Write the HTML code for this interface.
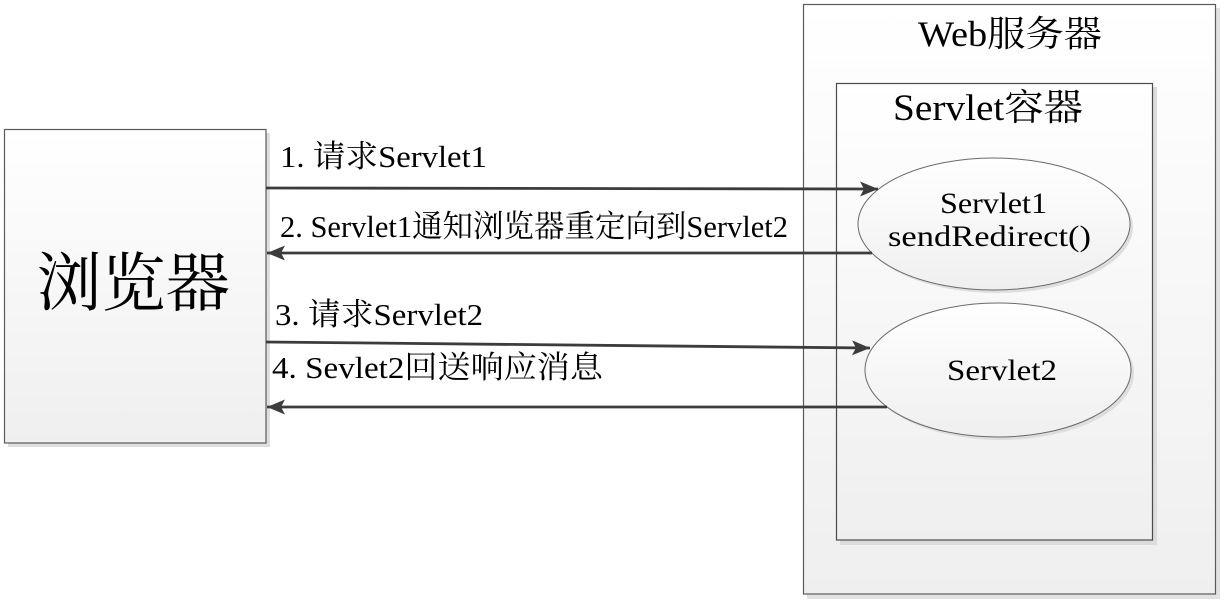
<!DOCTYPE html>
<html><head><meta charset="utf-8"><style>
html,body{margin:0;padding:0;background:#fff}svg{display:block}
svg, svg text{font-family:"Liberation Serif","Times New Roman","DejaVu Serif","Noto Serif CJK SC","Noto Serif CJK JP",serif !important;}
</style></head>
<body style="font-family:'Liberation Serif','Times New Roman',serif">
<svg width="1226" height="605" viewBox="0 0 1226 605" xmlns="http://www.w3.org/2000/svg" style="font-family:'Liberation Serif','Times New Roman','Noto Serif CJK SC',serif">
<defs>
<linearGradient id="g" x1="0" y1="0" x2="0" y2="1">
<stop offset="0" stop-color="#ffffff"/><stop offset="1" stop-color="#efefef"/>
</linearGradient>
<marker id="ah" markerWidth="18" markerHeight="15" refX="18" refY="7.5" orient="auto" markerUnits="userSpaceOnUse">
<path d="M0,0 L18,7.5 L0,15 L4,7.5 Z" fill="#3c3c3c"/>
</marker>
</defs>
<g fill="#000" font-family="Liberation Serif, Times New Roman, Noto Serif CJK SC, serif">
<!-- browser box -->
<rect x="8" y="133" width="262" height="314" fill="#dedede"/>
<rect x="4.5" y="129.5" width="261.5" height="313.5" fill="url(#g)" stroke="#5a5a5a" stroke-width="1.2"/>
<text x="37" y="284" font-size="64" dominant-baseline="central" textLength="193" lengthAdjust="spacingAndGlyphs">浏览器</text>
<!-- web server -->
<rect x="807" y="8" width="413" height="591" fill="#e2e2e2"/>
<rect x="803.5" y="4.5" width="412" height="589.5" fill="url(#g)" stroke="#5a5a5a" stroke-width="1.2"/>
<text x="918" y="46" font-size="36" textLength="184" lengthAdjust="spacingAndGlyphs">Web服务器</text>
<!-- servlet container -->
<rect x="840" y="87" width="317" height="458" fill="#dcdcdc"/>
<rect x="836.5" y="83.5" width="316" height="456.5" fill="url(#g)" stroke="#4a4a4a" stroke-width="1.2"/>
<text x="893" y="120" font-size="37" textLength="190" lengthAdjust="spacingAndGlyphs">Servlet容器</text>
<!-- ellipses -->
<ellipse cx="997" cy="227" rx="136" ry="66" fill="#dedede"/>
<ellipse cx="994" cy="224" rx="136" ry="66" fill="url(#g)" stroke="#6a6a6a" stroke-width="1"/>
<text x="940" y="213" font-size="30" textLength="107" lengthAdjust="spacingAndGlyphs">Servlet1</text>
<text x="888" y="246" font-size="30" textLength="203" lengthAdjust="spacingAndGlyphs">sendRedirect()</text>
<ellipse cx="1001" cy="373" rx="133" ry="67" fill="#dedede"/>
<ellipse cx="998" cy="370" rx="133" ry="67" fill="url(#g)" stroke="#6a6a6a" stroke-width="1"/>
<text x="947" y="380" font-size="30" textLength="110" lengthAdjust="spacingAndGlyphs">Servlet2</text>
<!-- arrows -->
<g stroke="#3c3c3c" stroke-width="2.8" fill="none">
<line x1="266" y1="188" x2="878" y2="189" marker-end="url(#ah)"/>
<line x1="872" y1="253" x2="267" y2="253" marker-end="url(#ah)"/>
<line x1="266" y1="342" x2="870" y2="348" marker-end="url(#ah)"/>
<line x1="887" y1="407" x2="267" y2="407" marker-end="url(#ah)"/>
</g>
<!-- labels -->
<text x="280" y="167" font-size="31" textLength="207" lengthAdjust="spacingAndGlyphs">1. 请求Servlet1</text>
<text x="280" y="237" font-size="31" textLength="508" lengthAdjust="spacingAndGlyphs">2. Servlet1通知浏览器重定向到Servlet2</text>
<text x="275" y="325" font-size="31" textLength="208" lengthAdjust="spacingAndGlyphs">3. 请求Servlet2</text>
<text x="272" y="378" font-size="31" textLength="331" lengthAdjust="spacingAndGlyphs">4. Sevlet2回送响应消息</text>
</g>
</svg>
</body></html>
